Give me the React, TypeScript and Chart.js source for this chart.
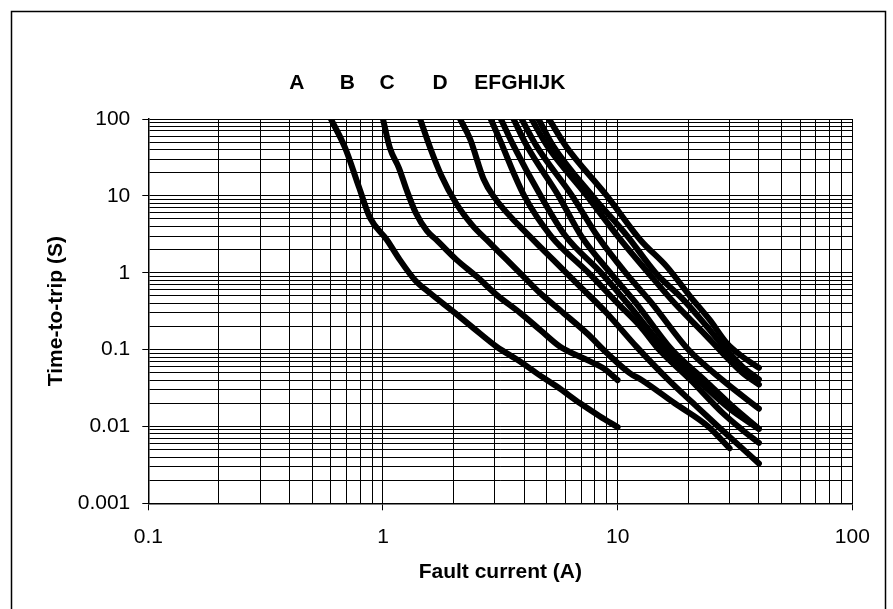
import React, { useEffect, useRef } from "react";
import { Chart, registerables } from "chart.js";

Chart.register(...registerables);

// ---- data (fault current A, time-to-trip s) ----
const curveA: [number, number][] = [[0.6,100],[0.69,42],[0.79,13],[0.88,5.2],[1.04,2.67],[1.18,1.47],[1.37,0.8],[1.59,0.54],[2.0,0.31],[2.43,0.19],[3.05,0.109],[3.84,0.07],[4.53,0.049],[5.51,0.033],[6.92,0.02],[8.42,0.0135],[10,0.0098]];
const curveB: [number, number][] = [[1.0,100],[1.07,42],[1.17,23],[1.26,12],[1.38,6.0],[1.54,3.5],[1.69,2.67],[2.06,1.47],[2.51,0.89],[3.05,0.515],[3.84,0.3],[4.68,0.18],[5.69,0.109],[7.15,0.077],[8.7,0.057],[10,0.04]];
const curveC: [number, number][] = [[1.44,100],[1.59,42],[1.77,18.6],[2.04,8.2],[2.41,4.1],[2.77,2.67],[3.16,1.79],[3.84,0.99],[4.68,0.54],[5.87,0.3],[7.4,0.163],[9,0.09],[11.3,0.049],[12.7,0.04],[17.5,0.02],[24.3,0.01],[30,0.0052]];
const curveD: [number, number][] = [[2.13,100],[2.35,55],[2.68,16.7],[2.95,10],[4.37,2.67],[5.32,1.47],[6.92,0.66],[9,0.297],[12,0.11],[16.5,0.04],[21,0.02],[26.8,0.01],[40,0.0033]];
const curveE: [number, number][] = [[2.88,100],[3.18,50],[3.6,20],[4.0,10],[5.2,3],[7.5,1],[10,0.4],[12.5,0.2],[15,0.1],[20.5,0.04],[28,0.015],[34,0.009],[40,0.0061]];
const curveF: [number, number][] = [[3.18,100],[3.6,45],[4.7,10],[6.0,3],[8.5,1],[11,0.4],[16,0.1],[22,0.04],[30,0.017],[40,0.0093]];
const curveG: [number, number][] = [[3.6,100],[4.1,45],[5.6,10],[7.0,3],[9.3,1],[12,0.4],[17,0.1],[23.5,0.04],[31,0.018],[40,0.0093]];
const curveH: [number, number][] = [[3.9,100],[4.5,45],[6.4,10],[8.2,3],[10.8,1],[14,0.4],[20,0.1],[28,0.04],[40,0.017]];
const curveI: [number, number][] = [[4.3,100],[5.0,45],[7.4,10],[10,3],[13.5,1],[17.5,0.4],[23,0.17],[28,0.09],[34,0.05],[40,0.035]];
const curveJ: [number, number][] = [[4.6,100],[5.3,45],[7.8,10],[11,3],[14.5,1],[19,0.45],[24,0.2],[29,0.1],[34,0.06],[40,0.041]];
const curveK: [number, number][] = [[5.1,100],[6.0,45],[9.0,10],[12.5,2.67],[16.2,1.2],[20.4,0.49],[24.7,0.243],[29.2,0.121],[33.3,0.085],[40,0.058]];

const curves = [curveA, curveB, curveC, curveD, curveE, curveF, curveG, curveH, curveI, curveJ, curveK];
const curveNames = ["A", "B", "C", "D", "E", "F", "G", "H", "I", "J", "K"];

// letter labels above the plot, anchored at a fault-current value
const topLabels = ["A", "B", "C", "D", "EFGHIJK"];
const topLabelAt = [0.43, 0.705, 1.04, 1.75, 3.83];

const xTickValues = [0.1, 1, 10, 100];
const xTickLabels = ["0.1", "1", "10", "100"];
const yTickValues = [0.001, 0.01, 0.1, 1, 10, 100];
const yTickLabels = ["0.001", "0.01", "0.1", "1", "10", "100"];

const FONT = "'Liberation Sans', Arial, sans-serif";

function logTicks(min: number, max: number) {
  const out: { value: number; major: boolean }[] = [];
  const lo = Math.round(Math.log10(min));
  const hi = Math.round(Math.log10(max));
  for (let e = lo; e < hi; e++) {
    for (let m = 1; m <= 9; m++) {
      out.push({ value: parseFloat((m * Math.pow(10, e)).toPrecision(6)), major: m === 1 });
    }
  }
  out.push({ value: Math.pow(10, hi), major: true });
  return out;
}

function isDecade(v: number) {
  const l = Math.log10(v);
  return Math.abs(l - Math.round(l)) < 1e-6;
}

function labelFor(v: number, values: number[], labels: string[]) {
  for (let i = 0; i < values.length; i++) {
    if (Math.abs(Math.log10(v) - Math.log10(values[i])) < 1e-6) return labels[i];
  }
  return "";
}

export default function App() {
  const ref = useRef<HTMLCanvasElement | null>(null);
  useEffect(() => {
    if (!ref.current) return;
    const framePlugin = {
      id: "frame",
      beforeDraw(chart: any) {
        const ctx = chart.ctx;
        ctx.save();
        ctx.fillStyle = "#fff";
        ctx.fillRect(0, 0, chart.width, chart.height);
        ctx.strokeStyle = "#000";
        ctx.lineWidth = 1.5;
        ctx.strokeRect(11.5, 11.5, 874, 640);
        ctx.restore();
      },
      afterDraw(chart: any) {
        const ctx = chart.ctx;
        const xs = chart.scales.x;
        ctx.save();
        ctx.fillStyle = "#000";
        ctx.font = `bold 21px ${FONT}`;
        ctx.textAlign = "center";
        ctx.textBaseline = "middle";
        topLabels.forEach((t, i) => {
          ctx.fillText(t, xs.getPixelForValue(topLabelAt[i]), chart.chartArea.top - 36);
        });
        ctx.restore();
      },
    };

    const chart = new Chart(ref.current, {
      type: "scatter",
      data: {
        datasets: curves.map((c, i) => ({
          label: curveNames[i],
          data: c.map(([x, y]) => ({ x, y })),
          showLine: true,
          borderColor: "#000",
          backgroundColor: "#000",
          borderWidth: 6,
          pointRadius: 0,
          borderCapStyle: "round",
          borderJoinStyle: "round",
          cubicInterpolationMode: "monotone",
        })),
      },
      options: {
        responsive: false,
        animation: false,
        devicePixelRatio: 1,
        layout: { padding: { left: 0, top: 119, right: 40.7, bottom: 0 } },
        plugins: { legend: { display: false }, tooltip: { enabled: false } },
        scales: {
          x: {
            type: "logarithmic",
            min: 0.1,
            max: 100,
            afterBuildTicks: (s: any) => { s.ticks = logTicks(0.1, 100); },
            afterFit: (s: any) => { s.height = 105.7; },
            grid: {
              color: "#000",
              lineWidth: 1,
              tickLength: 7,
              tickColor: (c: any) => (c.tick && isDecade(c.tick.value) ? "#000" : "rgba(0,0,0,0)"),
            },
            border: { color: "#000", width: 1.5 },
            ticks: {
              autoSkip: false,
              maxRotation: 0,
              padding: 14,
              color: "#000",
              font: { family: FONT, size: 21 },
              callback: (v: any) => labelFor(Number(v), xTickValues, xTickLabels),
            },
            title: {
              display: true,
              text: "Fault current (A)",
              color: "#000",
              font: { family: FONT, size: 21, weight: "bold" },
              padding: { top: 0, bottom: 24 },
            },
          },
          y: {
            type: "logarithmic",
            min: 0.001,
            max: 100,
            afterBuildTicks: (s: any) => { s.ticks = logTicks(0.001, 100); },
            afterFit: (s: any) => { s.width = 148.3; },
            grid: {
              color: "#000",
              lineWidth: 1,
              tickLength: 6,
              tickColor: (c: any) => (c.tick && isDecade(c.tick.value) ? "#000" : "rgba(0,0,0,0)"),
            },
            border: { color: "#000", width: 1.5 },
            ticks: {
              autoSkip: false,
              padding: 12,
              color: "#000",
              font: { family: FONT, size: 21 },
              callback: (v: any) => labelFor(Number(v), yTickValues, yTickLabels),
            },
            title: {
              display: true,
              text: "Time-to-trip (S)",
              color: "#000",
              font: { family: FONT, size: 21, weight: "bold" },
              padding: { top: 44, bottom: 0 },
            },
          },
        },
      },
      plugins: [framePlugin],
    } as any);
    return () => chart.destroy();
  }, []);

  return (
    <div style={{ position: "absolute", left: 0, top: 0, width: 893, height: 609 }}>
      <canvas ref={ref} width={893} height={609} style={{ width: 893, height: 609, display: "block" }} />
    </div>
  );
}
